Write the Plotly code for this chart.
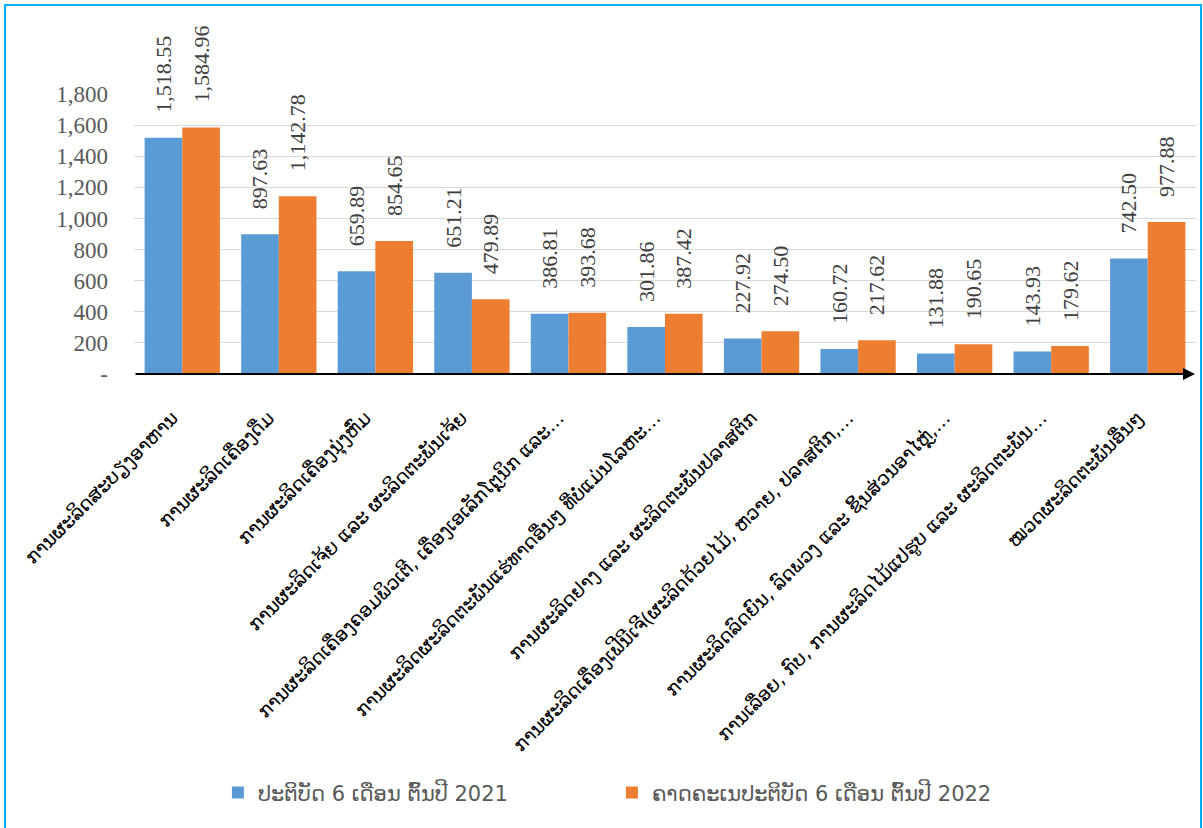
import plotly.graph_objects as go

categories = [
    "ການຜະລິດສະບຽງອາຫານ",
    "ການຜະລິດເຄື່ອງດື່ມ",
    "ການຜະລິດເຄື່ອງນຸ່ງຫົ່ມ",
    "ການຜະລິດເຈ້ຍ ແລະ ຜະລິດຕະພັນເຈ້ຍ",
    "ການຜະລິດເຄື່ອງຄອມພິວເຕີ, ເຄື່ອງເອເລັກໂຕຼນິກ ແລະ…",
    "ການຜະລິດຜະລິດຕະພັນແຮ່ທາດອື່ນໆ ທີ່ບໍ່ແມ່ນໂລຫະ…",
    "ການຜະລິດຢາງ ແລະ ຜະລິດຕະພັນປລາສຕິກ",
    "ການຜະລິດເຄື່ອງເຟີນີເຈີ(ຜະລິດດ້ວຍໄມ້, ຫວາຍ, ປລາສຕິກ,…",
    "ການຜະລິດລົດຍົນ, ລົດພວງ ແລະ ຊິ້ນສ່ວນອາໄຫຼ່,…",
    "ການເລື່ອຍ, ກົບ, ການຜະລິດໄມ້ແປຮູບ ແລະ ຜະລິດຕະພັນ…",
    "ໝວດຜະລິດຕະພັນອື່ນໆ",
]
values_2021 = [1518.55, 897.63, 659.89, 651.21, 386.81, 301.86, 227.92, 160.72, 131.88, 143.93, 742.50]
values_2022 = [1584.96, 1142.78, 854.65, 479.89, 393.68, 387.42, 274.50, 217.62, 190.65, 179.62, 977.88]
series_names = ["ປະຕິບັດ 6 ເດືອນ ຕົ້ນປີ 2021", "ຄາດຄະເນປະຕິບັດ 6 ເດືອນ ຕົ້ນປີ 2022"]
tick_vals = [0, 200, 400, 600, 800, 1000, 1200, 1400, 1600, 1800]
tick_text = ["-", "200", "400", "600", "800", "1,000", "1,200", "1,400", "1,600", "1,800"]

colors = ["#5B9BD5", "#ED7D31"]
serif = "Liberation Serif, Times New Roman, serif"
lao = "DejaVu Sans, Noto Sans, sans-serif"
pad = "\u00a0" * 4

fig = go.Figure()
for name, vals, col in zip(series_names, [values_2021, values_2022], colors):
    fig.add_trace(go.Bar(
        x=categories, y=vals, name=name,
        marker=dict(color=col, line=dict(width=0)),
        text=[pad + f"{v:,.2f}" for v in vals],
        textposition="outside", textangle=-90,
        textfont=dict(family=serif, size=22, color="#404040"),
        constraintext="none", cliponaxis=False,
    ))

W, H = 1203, 828
ml, mr, mt, mb = 134, 7, 94, 454
pw, ph = W - ml - mr, H - mt - mb

fig.update_layout(
    width=W, height=H,
    margin=dict(l=ml, r=mr, t=mt, b=mb, autoexpand=False),
    paper_bgcolor="white", plot_bgcolor="white",
    barmode="group", bargap=0.22, bargroupgap=0,
    showlegend=True,
    legend=dict(orientation="h", x=0.450, xanchor="center", y=-1.496, yanchor="middle",
                font=dict(family=lao, size=21, color="#595959"),
                entrywidth=349, itemwidth=30, traceorder="normal"),
    xaxis=dict(tickangle=-45, tickfont=dict(family=lao, size=19, color="#000000"),
               showgrid=False, showline=False, ticks="", automargin=False,
               ticklabelstandoff=28, ticklabelshift=-10),
    yaxis=dict(range=[0, 1800], tickvals=tick_vals, ticktext=tick_text,
               tickfont=dict(family=serif, size=23, color="#595959"),
               showgrid=True, gridcolor="#D9D9D9", gridwidth=1,
               zeroline=False, showline=False, ticks="", ticklabelstandoff=25,
               automargin=False),
    font=dict(family=lao),
)

# axis arrows
fig.add_annotation(x=0, xref="paper", y=1815, yref="y", ax=0, ay=ph + 2,
                   showarrow=True, arrowhead=2, arrowsize=1.2, arrowwidth=2, arrowcolor="black", text="")
fig.add_annotation(x=(1195 - ml) / pw, xref="paper", y=0, yref="y", ax=-(1195 - ml), ay=0,
                   showarrow=True, arrowhead=2, arrowsize=1.2, arrowwidth=2, arrowcolor="black", text="")

# outer frame
fig.add_shape(type="rect", xref="paper", yref="paper",
              x0=(5 - ml) / pw, x1=(1201 - ml) / pw,
              y0=(H - mb - 840) / ph, y1=(H - mb - 5) / ph,
              line=dict(color="#00B0F0", width=2), fillcolor="rgba(0,0,0,0)", layer="below")

fig.write_html("out.html", config={"displayModeBar": False},
               post_script="document.body.style.margin='0px';")
